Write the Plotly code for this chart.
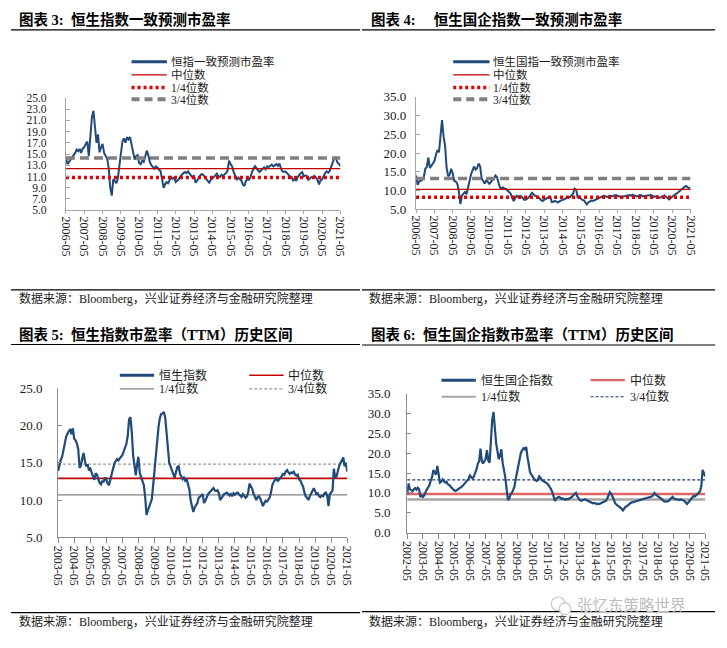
import plotly.graph_objects as go
import pandas as pd

W, H = 727, 648

# ---------------- data ----------------
# Panel 1: 恒指一致预测市盈率 (monthly, from 2006-05)
hsi_fwd_start = "2006-05-01"
hsi_fwd_pe = [
    14.3, 13.2, 13.6, 14.0, 14.3, 14.8, 15.2, 15.8,
    15.5, 15.9, 15.2, 16.0, 16.2, 16.8, 17.2, 14.6, 17.8, 21.5, 22.7, 19.8,
    17.0, 18.5, 15.3, 16.2, 16.8, 15.2, 14.8, 14.2, 12.5, 9.0, 7.6, 10.5,
    10.2, 9.8, 10.6, 12.8, 15.5, 17.2, 17.8, 17.0, 18.0, 17.6, 18.0, 16.8,
    15.2, 14.0, 14.6, 14.8, 13.4, 13.2, 13.8, 13.6, 14.6, 15.6, 14.8, 13.6,
    13.0, 12.6, 12.4, 12.8, 12.6, 12.2, 12.0, 10.6, 9.0, 9.6, 10.0, 9.8,
    10.4, 10.9, 10.6, 10.8, 10.0, 10.2, 10.5, 11.0, 11.4, 11.6, 11.8, 11.6,
    11.9, 11.5, 11.0, 10.8, 11.2, 9.9, 10.2, 10.8, 11.2, 11.4, 11.3, 10.9,
    10.5, 10.3, 9.9, 10.4, 10.6, 10.9, 11.2, 11.5, 11.0, 10.9, 11.3, 11.0,
    11.4, 11.6, 12.0, 13.8, 13.2, 12.8, 11.8, 11.0, 10.4, 10.8, 10.5, 10.3,
    9.6, 9.3, 10.2, 10.5, 10.4, 10.8, 11.8, 12.4, 12.9, 12.4, 12.1, 11.8,
    12.1, 12.4, 12.6, 12.3, 12.8, 12.7, 12.9, 13.1, 12.8, 13.0, 13.2, 12.9,
    13.3, 12.4, 11.9, 11.8, 11.9, 11.6, 11.3, 11.0, 10.9, 10.3, 10.6, 10.2,
    10.9, 11.3, 11.6, 11.8, 11.0, 11.2, 11.1, 10.4, 10.6, 10.9, 10.8, 11.1,
    10.8, 10.4, 9.6, 10.3, 10.5, 11.1, 11.6, 11.9, 11.7, 12.0, 12.8, 13.5,
    14.3, 14.4, 13.5, 13.3, 12.8,
]
hsi_fwd_med = 12.4
hsi_fwd_q1 = 10.8
hsi_fwd_q3 = 14.3

# Panel 2: 恒生国指一致预测市盈率 (monthly, from 2006-05)
hscei_fwd_start = "2006-05-01"
hscei_fwd_pe = [
    14.0, 11.5, 12.4, 12.6, 12.8, 13.4, 15.8, 16.2,
    18.8, 16.0, 16.5, 17.2, 17.8, 19.5, 20.8, 20.2, 24.0, 28.8, 24.5, 22.0,
    16.0, 13.8, 14.2, 15.8, 14.6, 12.6, 12.4, 11.8, 9.8, 6.4, 8.6, 9.2,
    9.6, 9.0, 10.8, 12.8, 14.2, 15.4, 16.4, 15.6, 16.0, 17.2, 16.4, 13.2,
    12.6, 11.8, 12.8, 12.4, 11.8, 12.2, 12.8, 13.0, 14.0, 13.6, 11.8, 10.8,
    10.6, 10.8, 10.5, 10.4, 10.0, 9.6, 9.2, 8.0, 7.2, 8.0, 8.6, 8.2,
    8.5, 8.4, 7.9, 7.5, 7.6, 7.9, 8.2, 8.8, 9.4, 9.0, 8.6, 8.5,
    8.3, 7.9, 7.4, 7.2, 7.5, 7.8, 8.0, 8.2, 8.3, 6.9, 7.0, 7.2,
    7.0, 6.8, 7.1, 7.4, 7.5, 7.6, 7.9, 8.1, 8.3, 8.2, 8.6, 9.2,
    10.5, 10.2, 8.2, 8.4, 7.9, 7.5, 7.4, 6.8, 6.3, 6.8, 7.0, 7.3,
    7.2, 7.4, 7.7, 7.8, 8.0, 8.2, 8.5, 8.6, 8.5, 8.3, 8.4, 8.6,
    8.4, 8.5, 8.7, 8.8, 8.6, 8.4, 8.3, 8.2, 8.4, 8.5, 8.4, 8.5,
    8.8, 8.6, 8.9, 8.7, 8.6, 8.4, 8.6, 8.8, 8.6, 8.4, 8.5, 8.6,
    8.7, 8.9, 8.8, 8.6, 8.3, 8.4, 8.5, 8.2, 8.1, 8.3, 8.5, 8.7,
    8.3, 8.0, 7.6, 8.0, 8.4, 8.6, 9.0, 9.2, 9.5, 9.8, 10.2, 10.6,
    11.0, 11.2, 10.9, 10.7, 10.5,
]
hscei_fwd_med = 10.3
hscei_fwd_q1 = 8.2
hscei_fwd_q3 = 13.2

# Panel 3: 恒生指数 PE TTM (monthly, from 2003-05)
hsi_ttm_start = "2003-05-01"
hsi_ttm_pe = [
    13.9, 14.8, 15.4, 15.8, 16.6, 17.8, 18.5, 18.9,
    19.3, 19.5, 18.8, 19.6, 18.2, 18.0, 17.6, 16.8, 14.3, 14.6, 15.6, 16.3,
    15.2, 14.5, 14.8, 14.0, 14.2, 13.6, 13.1, 12.7, 13.6, 13.4, 12.8, 12.3,
    12.1, 12.6, 12.4, 13.0, 12.8, 12.2, 12.0, 12.8, 13.5, 14.4, 14.9, 15.2,
    15.5, 15.3, 15.6, 15.8, 16.0, 16.4, 17.0, 17.5, 18.6, 20.8, 21.1, 19.2,
    16.0, 14.6, 13.3, 14.8, 15.8, 13.6, 13.0, 12.6, 12.0, 10.4, 8.0, 8.6,
    9.2, 9.6, 10.1, 12.0, 14.0, 16.0, 18.2, 19.8, 21.0, 21.5, 21.6, 21.8,
    21.0, 19.0, 16.5, 15.0, 14.5, 13.8, 13.5, 13.0, 13.6, 14.4, 14.6, 13.5,
    13.2, 12.8, 13.0, 12.6, 12.8, 12.2, 11.5, 10.0, 9.0, 8.4, 9.0, 9.3,
    9.6, 10.3, 10.4, 10.6, 10.8, 9.6, 9.9, 10.5, 10.8, 11.0, 11.2, 11.4,
    11.6, 11.3, 11.2, 11.3, 11.0, 10.0, 10.3, 10.6, 10.8, 10.9, 11.0, 10.8,
    10.6, 10.8, 10.5, 10.9, 10.7, 10.9, 11.0, 10.8, 10.6, 10.4, 10.8, 10.6,
    10.3, 10.5, 11.0, 12.2, 11.9, 11.5, 10.9, 10.3, 10.0, 10.4, 10.5, 10.2,
    9.6, 9.2, 9.6, 9.9, 9.8, 10.1, 10.3, 11.0, 12.0, 12.4, 12.8, 13.0,
    12.5, 12.7, 13.0, 13.2, 13.5, 13.4, 13.8, 14.0, 13.7, 13.5, 13.7, 13.6,
    13.8, 13.4, 13.3, 13.4, 12.8, 12.6, 12.2, 11.8, 11.0, 10.5, 10.3, 10.0,
    10.5, 11.0, 11.2, 11.6, 11.2, 10.8, 10.9, 10.5, 10.4, 10.6, 10.5, 10.9,
    11.0, 10.6, 9.2, 10.8, 11.0, 11.3, 14.2, 13.0, 13.2, 14.0, 14.6, 15.0,
    15.3, 15.7, 14.5, 15.0, 13.8,
]
hsi_ttm_med = 12.9
hsi_ttm_q1 = 10.7
hsi_ttm_q3 = 14.8

# Panel 4: 恒生国企指数 PE TTM (monthly, from 2002-05)
hscei_ttm_start = "2002-05-01"
hscei_ttm_pe = [
    9.6, 12.4, 11.0, 10.6, 10.4, 10.9, 11.2, 10.8,
    11.3, 11.0, 9.0, 9.3, 9.0, 9.4, 10.4, 10.9, 11.4, 12.0, 13.2, 14.0,
    15.8, 15.0, 14.6, 16.8, 14.2, 12.6, 12.8, 13.4, 13.0, 12.6, 12.8, 12.2,
    12.0, 11.6, 11.2, 10.9, 10.6, 10.5, 10.8, 11.0, 11.2, 11.4, 11.6, 12.0,
    12.4, 12.8, 13.2, 13.6, 14.4, 14.0, 13.6, 14.2, 15.0, 16.0, 17.4, 18.0,
    21.2, 18.0, 17.4, 18.2, 18.6, 20.8, 18.2, 17.6, 24.0, 28.5, 30.4, 26.0,
    22.5, 20.5, 18.5, 19.5, 21.0, 17.5, 16.0, 14.0, 11.0, 8.2, 8.6, 9.6,
    10.0, 10.6, 11.5, 13.5, 15.2, 17.0, 18.5, 20.2, 20.8, 21.3, 21.0, 21.6,
    19.0, 17.0, 15.2, 14.6, 14.0, 13.6, 13.2, 13.0, 13.4, 14.2, 13.8, 13.2,
    13.0, 12.8, 12.6, 12.4, 12.0, 11.6, 11.0, 10.2, 9.0, 8.0, 8.6, 8.9,
    9.0, 8.8, 8.5, 8.6, 8.4, 8.3, 8.5, 8.4, 8.6, 8.7, 9.0, 9.4,
    9.8, 10.0, 9.2, 8.6, 8.2, 8.0, 8.1, 8.3, 8.4, 8.2, 8.0, 7.8,
    7.7, 7.5, 7.4, 7.5, 7.3, 7.2, 7.3, 7.2, 7.4, 7.5, 7.6, 7.7,
    8.0, 8.6, 9.4, 10.2, 9.8, 9.2, 8.4, 7.4, 7.0, 6.8, 6.6, 6.4,
    6.0, 5.6, 6.0, 6.5, 6.6, 6.9, 7.3, 7.5, 7.6, 7.7, 7.8, 7.9,
    8.0, 8.0, 8.1, 8.3, 8.4, 8.5, 8.6, 8.7, 8.8, 8.9, 9.0, 9.1,
    9.4, 10.0, 9.6, 9.4, 9.2, 9.0, 8.7, 8.4, 8.0, 7.8, 7.9, 7.8,
    8.0, 8.4, 8.8, 9.0, 8.6, 8.5, 8.4, 8.3, 8.2, 8.4, 8.3, 8.2,
    8.0, 7.6, 7.2, 7.6, 8.0, 8.4, 9.0, 9.2, 9.1, 9.4, 9.6, 10.0,
    10.5, 11.8, 15.8, 14.8, 14.2,
]
hscei_ttm_med = 9.75
hscei_ttm_q1 = 8.35
hscei_ttm_q3 = 13.3

# Text
titles = [
    "图表 3:  恒生指数一致预测市盈率",
    "图表 4:     恒生国企指数一致预测市盈率",
    "图表 5:  恒生指数市盈率（TTM）历史区间",
    "图表 6:  恒生国企指数市盈率（TTM）历史区间",
]
source_text = "数据来源：Bloomberg，兴业证券经济与金融研究院整理"
legend1 = ["恒指一致预测市盈率", "中位数", "1/4位数", "3/4位数"]
legend2 = ["恒生国指一致预测市盈率", "中位数", "1/4位数", "3/4位数"]
legend3 = ["恒生指数", "中位数", "1/4位数", "3/4位数"]
legend4 = ["恒生国企指数", "中位数", "1/4位数", "3/4位数"]
watermark = "张忆东策略世界"

# ---------------- helpers ----------------
NAVY = "#1F4A7A"
RED = "#C00000"
GRAY = "#808080"
TXT = "#1a1a1a"
SERIF_CJK = "Liberation Serif, Noto Sans CJK SC"


def PX(x):
    return x / W


def PY(y):
    return 1 - y / H


def dates(start, n):
    return pd.date_range(start, periods=n, freq="MS")


def yearly_ticks(y0, y1):
    return [f"{y}-05-01" for y in range(y0, y1 + 1)]


fig = go.Figure()

# Panel 1
d1 = dates(hsi_fwd_start, len(hsi_fwd_pe))
fig.add_trace(go.Scatter(x=d1, y=hsi_fwd_pe, mode="lines", line=dict(color=NAVY, width=2),
                         xaxis="x", yaxis="y", showlegend=False, hoverinfo="skip"))
for val, ln in [(hsi_fwd_med, dict(color=RED, width=1.3)),
                (hsi_fwd_q1, dict(color="#E00000", width=3.5, dash="3px,3px")),
                (hsi_fwd_q3, dict(color=GRAY, width=3.5, dash="9px,5px"))]:
    fig.add_trace(go.Scatter(x=[d1[0], d1[-1]], y=[val, val], mode="lines", line=ln,
                             xaxis="x", yaxis="y", showlegend=False, hoverinfo="skip"))

# Panel 2
d2 = dates(hscei_fwd_start, len(hscei_fwd_pe))
fig.add_trace(go.Scatter(x=d2, y=hscei_fwd_pe, mode="lines", line=dict(color=NAVY, width=2),
                         xaxis="x2", yaxis="y2", showlegend=False, hoverinfo="skip"))
for val, ln in [(hscei_fwd_med, dict(color=RED, width=1.3)),
                (hscei_fwd_q1, dict(color="#E00000", width=3.5, dash="3px,3px")),
                (hscei_fwd_q3, dict(color=GRAY, width=3.5, dash="9px,5px"))]:
    fig.add_trace(go.Scatter(x=[d2[0], d2[-1]], y=[val, val], mode="lines", line=ln,
                             xaxis="x2", yaxis="y2", showlegend=False, hoverinfo="skip"))

# Panel 3
d3 = dates(hsi_ttm_start, len(hsi_ttm_pe))
for val, ln in [(hsi_ttm_q1, dict(color=GRAY, width=1.3)),
                (hsi_ttm_q3, dict(color="#9A9A9A", width=1.2, dash="3px,2px")),
                (hsi_ttm_med, dict(color=RED, width=1.6))]:
    fig.add_trace(go.Scatter(x=[d3[0], d3[-1]], y=[val, val], mode="lines", line=ln,
                             xaxis="x3", yaxis="y3", showlegend=False, hoverinfo="skip"))
fig.add_trace(go.Scatter(x=d3, y=hsi_ttm_pe, mode="lines", line=dict(color=NAVY, width=2.2),
                         xaxis="x3", yaxis="y3", showlegend=False, hoverinfo="skip"))

# Panel 4
d4 = dates(hscei_ttm_start, len(hscei_ttm_pe))
for val, ln in [(hscei_ttm_q1, dict(color="#A6A6A6", width=2.5)),
                (hscei_ttm_q3, dict(color="#1F3864", width=1.1, dash="3px,2px")),
                (hscei_ttm_med, dict(color="#E06666", width=2.5))]:
    fig.add_trace(go.Scatter(x=[d4[0], d4[-1]], y=[val, val], mode="lines", line=ln,
                             xaxis="x4", yaxis="y4", showlegend=False, hoverinfo="skip"))
fig.add_trace(go.Scatter(x=d4, y=hscei_ttm_pe, mode="lines", line=dict(color=NAVY, width=2.2),
                         xaxis="x4", yaxis="y4", showlegend=False, hoverinfo="skip"))


def xaxis(dom, y0, y1, anchor, linecol, font_size, ticklen):
    return dict(type="date", domain=dom, anchor=anchor,
                range=[f"{y0}-04-29", f"{y1}-05-03"],
                tickvals=yearly_ticks(y0, y1), tickformat="%Y-%m", tickangle=90,
                showline=True, linecolor=linecol, linewidth=1,
                ticks="outside", ticklen=ticklen, tickcolor=linecol,
                showgrid=False, zeroline=False, fixedrange=True,
                tickfont=dict(family="Liberation Serif", size=font_size, color=TXT))


def yaxis(dom, rng, dtick, anchor, linecol, font_size, standoff):
    return dict(domain=dom, anchor=anchor, range=rng, tick0=rng[0], dtick=dtick,
                tickformat=".1f", showline=True, linecolor=linecol, linewidth=1,
                ticks="inside", ticklen=4, tickcolor=linecol,
                showgrid=False, zeroline=False, fixedrange=True,
                ticklabelstandoff=standoff,
                tickfont=dict(family="Liberation Serif", size=font_size, color=TXT))


LC12 = "#A6A6A6"
LC34 = "#8C8C8C"
fig.update_layout(
    xaxis=xaxis([PX(60), PX(340)], 2006, 2021, "y", LC12, 12, 3),
    yaxis=yaxis([PY(208), PY(93)], [5, 25], 2, "x", LC12, 11.5, 16),
    xaxis2=xaxis([PX(417), PX(697)], 2006, 2021, "y2", LC12, 12, 3),
    yaxis2=yaxis([PY(207), PY(92)], [5, 35], 5, "x2", LC12, 13, 6),
    xaxis3=xaxis([PX(52), PX(347)], 2003, 2021, "y3", LC34, 12, 5),
    yaxis3=yaxis([PY(543), PY(390)], [5, 25], 5, "x3", LC34, 13, 12),
    xaxis4=xaxis([PX(408), PX(712)], 2002, 2021, "y4", LC34, 12, 5),
    yaxis4=yaxis([PY(538), PY(396)], [0, 35], 5, "x4", LC34, 13, 13),
)

shapes = []
annotations = []


def hline_px(x0, x1, y, color="black", width=1.2, dash=None):
    ln = dict(color=color, width=width)
    if dash:
        ln["dash"] = dash
    shapes.append(dict(type="line", xref="paper", yref="paper",
                       x0=PX(x0), x1=PX(x1), y0=PY(y), y1=PY(y), line=ln))


def text_px(x, y, s, size=12, bold=False, color=TXT, family=SERIF_CJK, anchor="left"):
    annotations.append(dict(xref="paper", yref="paper", x=PX(x), y=PY(y),
                            text=f"<b>{s}</b>" if bold else s, showarrow=False,
                            xanchor=anchor, yanchor="middle", borderpad=0,
                            font=dict(size=size, color=color, family=family)))


# titles and rules
text_px(11, 13, titles[0], size=14.5, bold=True, color="black")
text_px(370, 13, titles[1], size=14.5, bold=True, color="black")
text_px(11, 335, titles[2], size=14.5, bold=True, color="black")
text_px(370, 335, titles[3], size=14.5, bold=True, color="black")
hline_px(4, 360, 23.5)
hline_px(362, 722, 23.5)
hline_px(4, 360, 345.5)
hline_px(362, 722, 346)

# source lines
hline_px(4, 360, 289.5)
hline_px(362, 722, 289.5)
hline_px(4, 360, 620)
hline_px(362, 722, 619)
text_px(11, 298, source_text, size=12)
text_px(368, 298, source_text, size=12)
text_px(11, 629, source_text, size=12)
text_px(368, 629, source_text, size=12)

# legends panel 1 and 2
styles12 = [
    dict(color=NAVY, width=3),
    dict(color=RED, width=1.3),
    dict(color="#E00000", width=3.5, dash="3px,3px"),
    dict(color=GRAY, width=4, dash="8px,5px"),
]
rows12 = [56, 69.5, 82.5, 94.5]
for labels, sx0, sx1, tx in [(legend1, 127, 163, 166), (legend2, 455, 492, 495)]:
    for lab, st, ry in zip(labels, styles12, rows12):
        shapes.append(dict(type="line", xref="paper", yref="paper",
                           x0=PX(sx0), x1=PX(sx1), y0=PY(ry), y1=PY(ry), line=st))
        text_px(tx, ry, lab, size=11.5)

# legend panel 3
styles3 = [
    dict(color=NAVY, width=3),
    dict(color=RED, width=1.6),
    dict(color=GRAY, width=1.3),
    dict(color="#9A9A9A", width=1.2, dash="3px,2px"),
]
pos3 = [(115, 150, 154, 377), (247, 282, 286, 377), (115, 150, 154, 391), (247, 282, 286, 391)]
for lab, st, (a, b, t, ry) in zip(legend3, styles3, pos3):
    shapes.append(dict(type="line", xref="paper", yref="paper",
                       x0=PX(a), x1=PX(b), y0=PY(ry), y1=PY(ry), line=st))
    text_px(t, ry, lab, size=12)

# legend panel 4
styles4 = [
    dict(color=NAVY, width=3),
    dict(color="#E06666", width=2.2),
    dict(color="#A6A6A6", width=2.2),
    dict(color="#1F3864", width=1.1, dash="3px,2px"),
]
pos4 = [(443, 478, 482, 382), (595, 630, 634, 382), (443, 478, 482, 399), (595, 630, 634, 399)]
for lab, st, (a, b, t, ry) in zip(legend4, styles4, pos4):
    shapes.append(dict(type="line", xref="paper", yref="paper",
                       x0=PX(a), x1=PX(b), y0=PY(ry), y1=PY(ry), line=st))
    text_px(t, ry, lab, size=12)

# watermark
text_px(580, 611, watermark, size=15.5, color="#BDBDBD", family="Noto Sans CJK SC")
shapes.append(dict(type="circle", xref="paper", yref="paper",
                   x0=PX(555), x1=PX(569), y0=PY(618), y1=PY(604),
                   line=dict(color="#C8C8C8", width=1.2)))
shapes.append(dict(type="circle", xref="paper", yref="paper",
                   x0=PX(563), x1=PX(575), y0=PY(622), y1=PY(610),
                   line=dict(color="#C8C8C8", width=1.2), fillcolor="white"))

fig.update_layout(
    width=W, height=H, margin=dict(l=0, r=0, t=0, b=0),
    paper_bgcolor="white", plot_bgcolor="white",
    shapes=shapes, annotations=annotations, showlegend=False,
)

fig.write_html("out.html", config={"displayModeBar": False},
               post_script="document.body.style.margin='0';document.body.style.overflow='hidden';")
